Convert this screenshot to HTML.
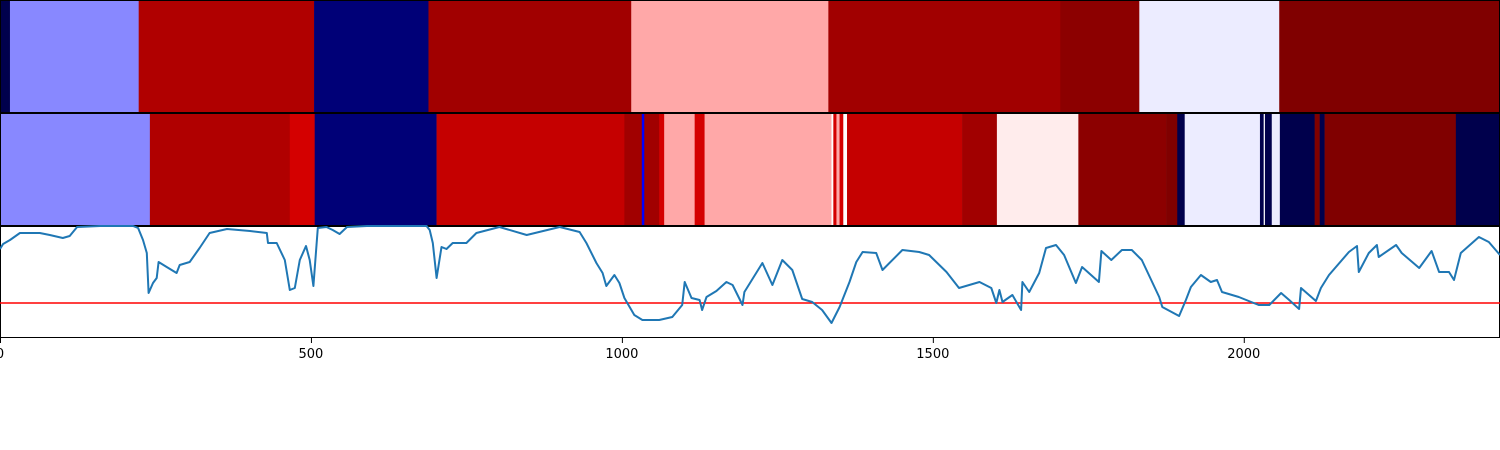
<!DOCTYPE html>
<html><head><meta charset="utf-8"><style>
html,body{margin:0;padding:0;background:#fff;}
svg{display:block;font-family:"DejaVu Sans","Liberation Sans",sans-serif;}
</style></head><body>
<svg id="chart" width="1500" height="450" viewBox="0 0 1500 450" xmlns="http://www.w3.org/2000/svg"></svg>
<script>
const topBounds=[0,16,223,505,689,1015,1332,1705,1832,2057,2412];
const topValues=[0,.383,.905,.06,.936,.585,.936,.976,.481,1.0];
const midBounds=[0,241,466,506,702,1004,1032,1036,1060,1068,1117,1133,1337,1340,1345,1350,1356,1362,1547,1603,1734,1875,1893,1905,2026,2032,2034,2045,2058,2114,2122,2130,2341,2412];
const midValues=[.383,.905,.835,.06,.865,.936,.25,.936,.835,.585,.835,.585,.5,.835,.585,.835,.5,.865,.936,.519,.976,1.0,0,.481,0,.5,0,.481,0,1.0,0,1.0,0];
const lineX=[0,5,16,32,64,80,101,112,124,161,214,222,230,236,239,246,252,255,268,284,289,305,321,337,365,402,429,431,445,458,466,474,482,492,498,504,511,525,535,546,558,590,686,691,696,702,710,718,728,750,766,803,847,900,932,943,959,969,975,988,996,1004,1020,1033,1060,1081,1097,1101,1112,1125,1129,1136,1152,1168,1178,1194,1197,1226,1242,1258,1274,1290,1306,1322,1337,1350,1366,1377,1387,1409,1419,1451,1478,1494,1522,1542,1575,1594,1602,1607,1612,1628,1642,1644,1655,1671,1682,1698,1711,1730,1740,1767,1771,1787,1804,1820,1836,1864,1869,1896,1907,1915,1931,1947,1957,1965,1992,2024,2041,2060,2073,2089,2092,2116,2124,2137,2169,2182,2185,2201,2214,2217,2245,2254,2282,2302,2314,2330,2338,2349,2378,2394,2412];
const lineY=[89,94,98,105,105,103,100,102,111,112,112,110,98,85,45,55,60,76,71,65,73,76,90,105,109,107,105,95,95,78,48,50,78,92,78,52,110,111,108,104,111,112,112,108,95,60,91,89,95,95,105,111,103,111,106,95,75,65,52,63,55,40,23,18,18,21,33,56,40,38,28,41,47,56,53,33,46,75,53,78,68,39,36,28,15,31,56,76,86,85,68,88,86,83,66,50,56,50,35,48,36,43,28,56,46,65,90,93,83,55,71,56,87,78,88,88,78,41,31,22,38,51,63,56,58,46,41,33,33,45,38,29,50,37,50,63,86,92,66,85,93,81,93,85,70,87,66,66,58,85,101,96,83];
const threshold=[35];
const xTicks=[0,500,1000,1500,2000];

const svg=document.getElementById('chart');
const NS='http://www.w3.org/2000/svg';
const X0=0,X1=1500,XMAX=2412;
const sx=v=>X0+(v/XMAX)*(X1-X0);
const P3T=226,P3B=338;
const sy=v=>P3B-(v/112)*(P3B-P3T);
function seismic(t){
  const stops=[[0,[0,0,76]],[.25,[0,0,255]],[.5,[255,255,255]],[.75,[255,0,0]],[1,[128,0,0]]];
  for(let i=1;i<stops.length;i++){if(t<=stops[i][0]){const a=stops[i-1],b=stops[i];const f=(t-a[0])/(b[0]-a[0]);const c=a[1].map((x,k)=>Math.round(x+(b[1][k]-x)*f));return `rgb(${c})`;}}
  return 'rgb(128,0,0)';
}
function mk(tag,attrs){const e=document.createElementNS(NS,tag);for(const k in attrs)e.setAttribute(k,attrs[k]);svg.appendChild(e);return e;}
function strip(bounds,vals,y0,y1,nm){
  for(let i=0;i<vals.length;i++){
    const r=mk('rect',{x:sx(bounds[i]),y:y0,width:sx(bounds[i+1])-sx(bounds[i])+0.3,height:y1-y0,fill:seismic(vals[i])});
    
    
  }
  const f=mk('rect',{x:0.5,y:y0+0.5,width:1499,height:y1-y0-1,fill:'none',stroke:'#000','stroke-width':1});
  
  
}
strip(topBounds,topValues,0,113,'top-strip');
strip(midBounds,midValues,113,226,'middle-strip');
const bg=mk('rect',{x:0.5,y:P3T+0.5,width:1499,height:P3B-P3T-1,fill:'#fff',stroke:'#000','stroke-width':1});


const th=mk('line',{x1:0,x2:1500,y1:sy(threshold[0]),y2:sy(threshold[0]),stroke:'#ff0000','stroke-width':1.5});


const pts=lineX.map((x,i)=>sx(x).toFixed(1)+','+sy(lineY[i]).toFixed(1)).join(' ');
const pl=mk('polyline',{points:pts,fill:'none',stroke:'#1f77b4','stroke-width':2,'stroke-linejoin':'round'});


xTicks.forEach(t=>{
  const tk=mk('line',{x1:sx(t)+0.5,x2:sx(t)+0.5,y1:P3B,y2:P3B+5,stroke:'#000','stroke-width':1});
  
  
  const tx=mk('text',{x:sx(t),y:P3B+20,'font-size':13,'text-anchor':'middle',fill:'#000'});
  tx.textContent=t;
  
  
});
</script>
</body></html>
